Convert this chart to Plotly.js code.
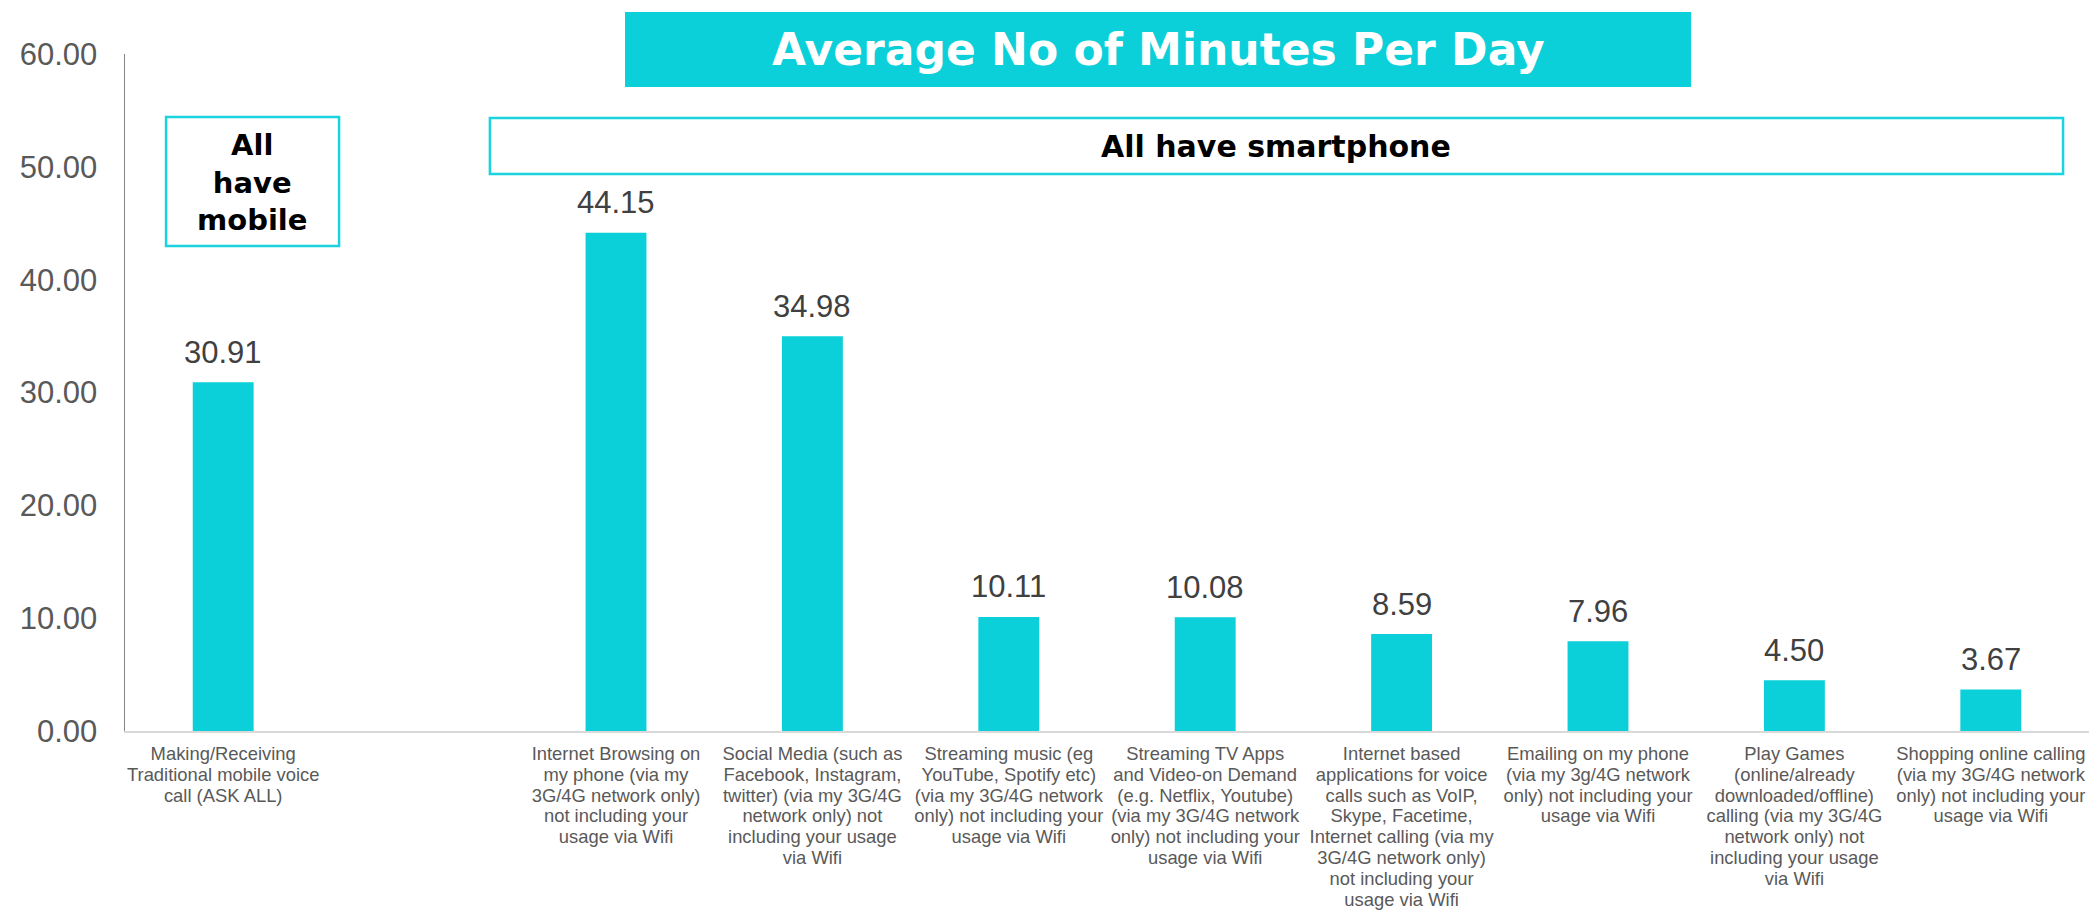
<!DOCTYPE html>
<html>
<head>
<meta charset="utf-8">
<script src="https://cdn.plot.ly/plotly-3.0.1.min.js"></script>
<style>
  html, body { margin: 0; padding: 0; background: #ffffff; }
  #chart { width: 2089px; height: 910px; }
</style>
</head>
<body>
<div id="chart"></div>
<script>
// ---- Data ----
var categories = [
  "Making/Receiving<br>Traditional mobile voice<br>call (ASK ALL)",
  " ",
  "Internet Browsing on<br>my phone (via my<br>3G/4G network only)<br>not including your<br>usage via Wifi",
  "Social Media (such as<br>Facebook, Instagram,<br>twitter) (via my 3G/4G<br>network only) not<br>including your usage<br>via Wifi",
  "Streaming music (eg<br>YouTube, Spotify etc)<br>(via my 3G/4G network<br>only) not including your<br>usage via Wifi",
  "Streaming TV Apps<br>and Video-on Demand<br>(e.g. Netflix, Youtube)<br>(via my 3G/4G network<br>only) not including your<br>usage via Wifi",
  "Internet based<br>applications for voice<br>calls such as VoIP,<br>Skype, Facetime,<br>Internet calling (via my<br>3G/4G network only)<br>not including your<br>usage via Wifi",
  "Emailing on my phone<br>(via my 3g/4G network<br>only) not including your<br>usage via Wifi",
  "Play Games<br>(online/already<br>downloaded/offline)<br>calling (via my 3G/4G<br>network only) not<br>including your usage<br>via Wifi",
  "Shopping online calling<br>(via my 3G/4G network<br>only) not including your<br>usage via Wifi"
];
var minutes = [30.91, null, 44.15, 34.98, 10.11, 10.08, 8.59, 7.96, 4.50, 3.67];
var yTickValues = [0, 10, 20, 30, 40, 50, 60];

var titleText = "Average No of Minutes Per Day";
var mobileBoxText = "All<br>have<br>mobile";
var smartphoneBoxText = "All have smartphone";

// ---- Styles ----
var TEAL = "#0BCFD9";
var BOX = "#1AD3DF";

var trace = {
  type: "bar",
  x: categories,
  y: minutes,
  marker: { color: TEAL },
  hoverinfo: "skip"
};

// Data labels built from the values
var annotations = [];
for (var i = 0; i < categories.length; i++) {
  if (minutes[i] === null) continue;
  annotations.push({
    x: categories[i], y: minutes[i], xref: "x", yref: "y",
    text: minutes[i].toFixed(2), showarrow: false,
    yanchor: "middle", yshift: 30,
    font: { family: "Arial, 'Liberation Sans', sans-serif", size: 31, color: "#404040" }
  });
}
annotations.push({
  x: 0.526, y: 1.006, xref: "paper", yref: "paper", text: "<b>" + titleText + "</b>",
  showarrow: false, xanchor: "center", yanchor: "middle",
  font: { family: "'DejaVu Sans', Verdana, sans-serif", size: 44, color: "#ffffff" }
});
annotations.push({
  x: 0.586, y: 0.8641, xref: "paper", yref: "paper", text: "<b>" + smartphoneBoxText + "</b>",
  showarrow: false, xanchor: "center", yanchor: "middle",
  font: { family: "'DejaVu Sans', Verdana, sans-serif", size: 30, color: "#000000" }
});
annotations.push({
  x: 0.0649, y: 0.8095, xref: "paper", yref: "paper", text: "<b>" + mobileBoxText + "</b>",
  showarrow: false, xanchor: "center", yanchor: "middle",
  font: { family: "'DejaVu Sans', Verdana, sans-serif", size: 29, color: "#000000" }
});

var shapes = [
  { type: "rect", xref: "paper", yref: "paper", x0: 0.2546, x1: 0.7974, y0: 0.9513, y1: 1.0620,
    fillcolor: TEAL, line: { width: 0 }, layer: "below" },
  { type: "rect", xref: "paper", yref: "paper", x0: 0.1858, x1: 0.9868, y0: 0.8227, y1: 0.9055,
    fillcolor: "rgba(255,255,255,0)", line: { color: BOX, width: 2.5 } },
  { type: "rect", xref: "paper", yref: "paper", x0: 0.0209, x1: 0.1090, y0: 0.7164, y1: 0.9069,
    fillcolor: "rgba(255,255,255,0)", line: { color: BOX, width: 2.5 } }
];

var layout = {
  width: 2089, height: 910,
  margin: { l: 125, r: 0, t: 54, b: 179, pad: 0 },
  paper_bgcolor: "#ffffff", plot_bgcolor: "#ffffff",
  showlegend: false,
  bargap: 0.69,
  xaxis: {
    type: "category",
    categoryorder: "array", categoryarray: categories,
    showgrid: false, zeroline: false,
    showline: true, linecolor: "#d9d9d9", linewidth: 2,
    ticks: "",
    tickangle: 0,
    ticklabelstandoff: 5,
    tickfont: { family: "Arial, 'Liberation Sans', sans-serif", size: 18.4, color: "#595959" },
    fixedrange: true
  },
  yaxis: {
    range: [0, 60],
    tickvals: yTickValues,
    tickformat: ".2f",
    showgrid: false, zeroline: false,
    showline: true, linecolor: "#868686", linewidth: 1.5,
    ticks: "",
    ticklabelstandoff: 20,
    tickfont: { family: "Arial, 'Liberation Sans', sans-serif", size: 31, color: "#595959" },
    fixedrange: true
  },
  shapes: shapes,
  annotations: annotations
};

Plotly.newPlot("chart", [trace], layout, { displayModeBar: false, staticPlot: true }).then(function (gd) {
  // tighten the line spacing of the wrapped category labels to match the reference
  var lines = gd.querySelectorAll(".xtick text tspan.line");
  for (var k = 0; k < lines.length; k++) {
    var dy = lines[k].getAttribute("dy");
    if (dy && dy.indexOf("em") > 0) {
      var v = parseFloat(dy);
      lines[k].setAttribute("dy", (v / 1.3 * 1.13) + "em");
    }
  }
});
</script>
</body>
</html>
